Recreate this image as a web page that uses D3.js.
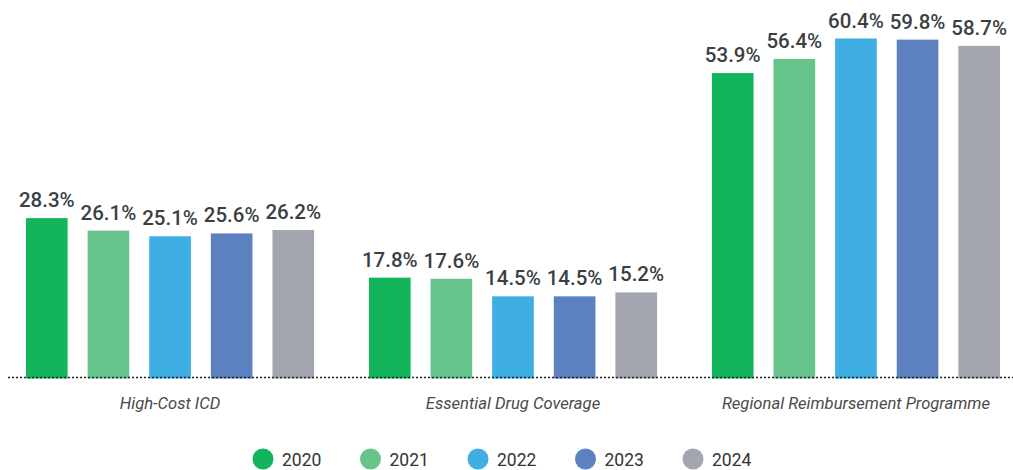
<!DOCTYPE html>
<html>
<head>
<meta charset="utf-8">
<script src="https://cdn.jsdelivr.net/npm/d3@7"></script>
<style>
  html, body { margin: 0; padding: 0; background: #fff; }
  svg { display: block; font-family: Roboto, "Noto Sans", sans-serif; }
</style>
</head>
<body>
<svg id="chart" width="1013" height="470"></svg>
<script>
// Programme categories and yearly series (percent)
const categories = ["High-Cost ICD", "Essential Drug Coverage", "Regional Reimbursement Programme"];
const years = ["2020", "2021", "2022", "2023", "2024"];
const values2020 = [28.3, 17.8, 53.9];
const values2021 = [26.1, 17.6, 56.4];
const values2022 = [25.1, 14.5, 60.4];
const values2023 = [25.6, 14.5, 59.8];
const values2024 = [26.2, 15.2, 58.7];
const yearColors = ["#12b55c", "#66c48a", "#3eaee3", "#5d80c0", "#a3a6ae"];

const series = [values2020, values2021, values2022, values2023, values2024];
const rows = categories.map((c, i) => ({
  category: c,
  items: years.map((yr, j) => ({ year: yr, value: series[j][i] }))
}));

const svg = d3.select("#chart");

const x0 = d3.scaleBand().domain(categories).range([26, 1000]).paddingInner(0.16).paddingOuter(0);
const x1 = d3.scaleBand().domain(years).range([0, x0.bandwidth()]).paddingInner(0.324).paddingOuter(0);
const y = d3.scaleLinear().domain([0, 60]).range([378.5, 38.5]).clamp(true);
const color = d3.scaleOrdinal().domain(years).range(yearColors);

const groups = svg.append("g").selectAll("g")
  .data(rows).join("g")
  .attr("transform", d => `translate(${x0(d.category)},0)`);

groups.selectAll("rect")
  .data(d => d.items).join("rect")
  .attr("x", d => x1(d.year))
  .attr("width", x1.bandwidth())
  .attr("y", d => y(d.value))
  .attr("height", d => y(0) - y(d.value))
  .attr("fill", d => color(d.year));

groups.selectAll("text.value")
  .data(d => d.items).join("text")
  .attr("class", "value")
  .attr("x", d => x1(d.year) + x1.bandwidth() / 2)
  .attr("y", d => y(d.value) - 11)
  .attr("text-anchor", "middle")
  .attr("font-size", 20.5)
  .attr("font-weight", 500)
  .attr("fill", "#3b3f43")
  .text(d => d.value.toFixed(1) + "%");

// Baseline
svg.append("line")
  .attr("x1", 8).attr("x2", 1013)
  .attr("y1", y(0) - 1).attr("y2", y(0) - 1)
  .attr("stroke", "#222")
  .attr("stroke-width", 1.5)
  .attr("stroke-dasharray", "2,2");

// Category axis labels
const xAxis = d3.axisBottom(x0).tickSize(0).tickPadding(0);
const axisG = svg.append("g").attr("transform", `translate(0,${y(0)})`).call(xAxis);
axisG.select(".domain").remove();
axisG.selectAll("text")
  .attr("dy", null)
  .attr("y", 30)
  .attr("font-size", 16.6)
  .attr("font-style", "italic")
  .attr("font-family", "Roboto, sans-serif")
  .attr("fill", "#4a4a4a");

// Legend
const legend = svg.append("g").selectAll("g")
  .data(years).join("g")
  .attr("transform", (d, i) => `translate(${263 + i * 107.5},459)`);
legend.append("circle").attr("r", 10.5).attr("fill", d => color(d));
legend.append("text")
  .attr("x", 19).attr("y", 6.5)
  .attr("font-size", 17.5)
  .attr("fill", "#333")
  .text(d => d);
</script>
</body>
</html>
